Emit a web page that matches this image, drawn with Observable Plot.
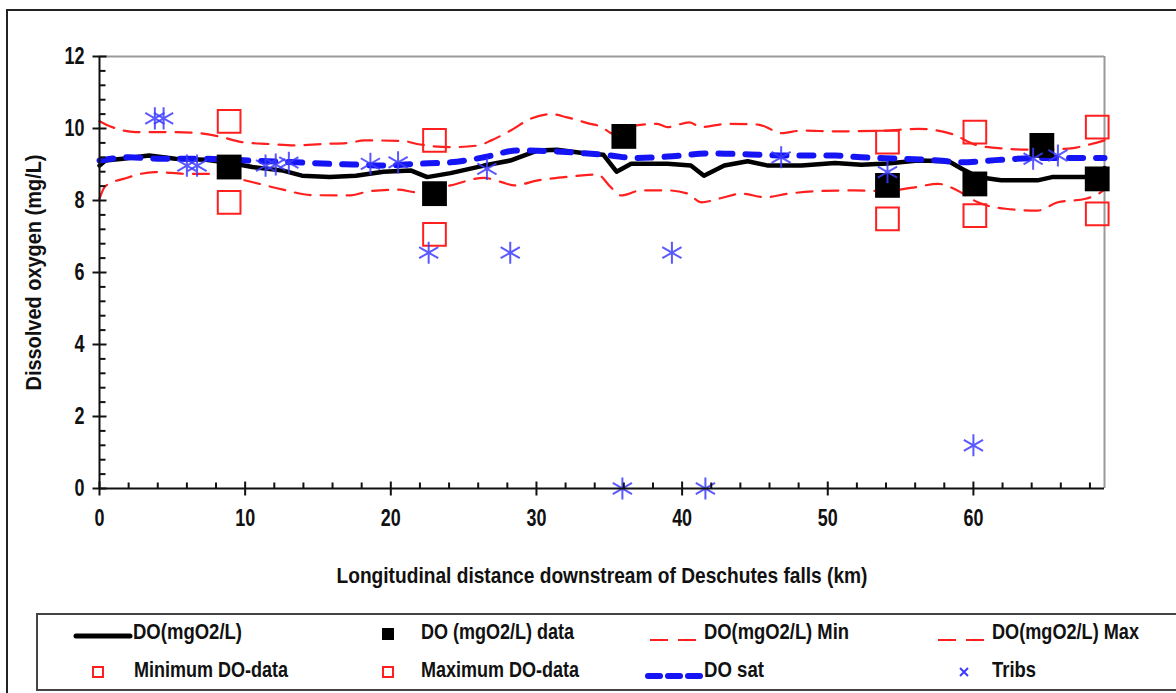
<!DOCTYPE html>
<html><head><meta charset="utf-8">
<script src="https://cdn.jsdelivr.net/npm/d3@7"></script>
<script src="https://cdn.jsdelivr.net/npm/@observablehq/plot@0.6"></script>
<style>
body{margin:0;background:#fff;}
#wrap{position:relative;width:1176px;height:693px;overflow:hidden;font-family:"Liberation Sans",Arial,sans-serif;font-weight:bold;color:#111;}
#outer{position:absolute;left:6px;top:9px;width:1200px;height:720px;border:2px solid #222;box-sizing:border-box;}
#chart{position:absolute;left:0;top:0;}
#legend{position:absolute;left:36px;top:613px;width:1200px;height:78px;border:2px solid #444;box-sizing:border-box;background:#fff}
.li{position:absolute;font-size:22px;line-height:24px;white-space:nowrap;transform-origin:0 50%;}
.ls{position:absolute;}
</style></head><body>
<div id="wrap"><div id="outer"></div><div id="chart"></div><div id="legend"></div></div>
<script>
// ---- data ----
const doX = [0,0.4,1.6,3.4,5.2,7.3,8.9,10.5,12.6,13.9,15.8,17.6,19.5,21.4,22.5,24.1,26.4,28.2,30.1,31.4,33.3,34.6,35.5,36.5,39.0,40.6,41.5,42.9,44.5,45.9,48.2,50.5,52.3,54.1,56.2,58.3,59.2,60.3,61.9,64.4,65.4,67.7,68.6,69.0];
const doY = [8.97,9.11,9.16,9.25,9.16,9.13,9.05,8.93,8.83,8.69,8.65,8.69,8.80,8.83,8.65,8.76,8.97,9.11,9.39,9.41,9.31,9.27,8.80,9.02,9.02,8.97,8.69,8.97,9.09,8.97,8.97,9.04,8.99,9.03,9.11,9.09,8.88,8.65,8.56,8.56,8.65,8.65,8.75,8.90];

const maxX = [0,0.5,2.5,4.3,6.6,8.4,9.8,11.6,13.5,15.3,17.1,18.2,20.9,21.8,24.1,26.0,26.9,28.2,29.6,31.0,32.1,33.7,34.4,35.3,36.5,38.3,39.0,40.5,41.3,43.1,45.2,46.3,46.8,48.2,50.5,53.9,56.2,58.5,60.3,62.2,64.0,66.5,68.1,69.0];
const maxY = [10.20,10.10,9.90,9.90,9.88,9.76,9.62,9.57,9.53,9.57,9.60,9.67,9.65,9.57,9.48,9.53,9.67,9.94,10.27,10.40,10.31,10.13,10.06,9.85,10.06,10.13,10.04,10.17,10.04,10.13,10.11,9.94,9.87,9.94,9.92,9.94,9.99,9.85,9.53,9.44,9.41,9.44,9.57,9.67];

const minX = [0,0.4,1.8,3.8,6.1,7.3,9.2,10.6,12.6,14.6,17.1,18.6,20.5,21.8,24.1,26.4,27.6,28.5,30.1,31.9,34.2,35.1,35.8,37.2,39.0,40.4,41.3,42.7,44.1,45.7,47.3,49.3,51.8,53.9,55.7,57.6,58.9,60.3,62.2,64.4,65.8,67.7,68.6,69.0];
const minY = [8.05,8.40,8.62,8.79,8.74,8.74,8.63,8.50,8.30,8.15,8.14,8.26,8.30,8.23,8.42,8.63,8.51,8.42,8.56,8.65,8.72,8.37,8.14,8.28,8.28,8.19,7.95,8.07,8.19,8.09,8.19,8.26,8.28,8.26,8.35,8.46,8.28,7.95,7.77,7.72,7.95,8.05,8.19,8.30];

const satX = [0,2.0,4.3,7.0,10.3,13.5,15.8,17.4,19.5,21.8,24.1,26.4,28.7,31.0,33.3,35.1,36.7,39.0,42.0,44.7,47.3,50.5,52.3,55.1,57.6,59.2,61.9,64.4,66.7,69.0];
const satY = [9.11,9.20,9.16,9.16,9.11,9.06,9.02,9.00,8.97,9.02,9.06,9.20,9.39,9.37,9.31,9.25,9.18,9.22,9.31,9.28,9.25,9.25,9.20,9.16,9.11,9.06,9.13,9.18,9.18,9.18];

const dataX = [8.9,23.0,36.0,54.1,60.1,64.7,68.5];
const dataY = [8.93,8.19,9.78,8.42,8.46,9.53,8.60];

const mmX = [8.9,23.0,54.1,60.1,68.5];
const minDataY = [7.95,7.06,7.49,7.58,7.63];
const maxDataY = [10.20,9.67,9.62,9.90,10.04];

const tribX = [3.8,4.4,6.0,6.7,11.4,12.1,13.0,18.6,20.5,22.6,26.6,28.2,35.9,39.3,41.6,46.8,54.1,60.0,64.1,65.8];
const tribY = [10.28,10.28,8.97,8.97,8.97,9.00,9.05,9.02,9.06,6.55,8.88,6.55,0,6.55,0,9.20,8.79,1.2,9.16,9.25];

const xTicks = [0,10,20,30,40,50,60];
const xMinor = d3.range(2,69,2).filter(v => v % 10 !== 0);
const yTicks = [0,2,4,6,8,10,12];
const yMinor = d3.range(0.4,12,0.4).map(v => +v.toFixed(1)).filter(v => Math.abs(v/2 - Math.round(v/2)) > 1e-6);

const xTitle = "Longitudinal distance downstream of Deschutes falls (km)";
const yTitle = "Dissolved oxygen (mg/L)";
const legendLabels = ["DO(mgO2/L)","DO (mgO2/L) data","DO(mgO2/L) Min","DO(mgO2/L) Max","Minimum DO-data","Maximum DO-data","DO sat","Tribs"];

// ---- build ----
const zip = (xs, ys) => xs.map((x,i) => ({x, y: ys[i]}));
const FONT = '"Liberation Sans",Arial,sans-serif';
const RED = "#ff1f1f", BLUE = "#1414f5", STAR = "#3c3cff";

const tickCross = {draw(c){c.moveTo(0,-7);c.lineTo(0,7);}};
const tickUp = {draw(c){c.moveTo(0,0);c.lineTo(0,-6);}};
const tickCrossH = {draw(c){c.moveTo(-7,0);c.lineTo(7,0);}};
const tickRight = {draw(c){c.moveTo(0,0);c.lineTo(6,0);}};

const chart = Plot.plot({
  width: 1176, height: 600,
  marginLeft: 99, marginRight: 72, marginTop: 56, marginBottom: 112,
  x: {domain: [0, 69], axis: null},
  y: {domain: [0, 12], axis: null},
  style: {background: "transparent", overflow: "visible"},
  marks: [
    Plot.ruleY([12], {stroke: "#9a9a9a", strokeWidth: 2}),
    Plot.ruleX([69], {stroke: "#9a9a9a", strokeWidth: 2}),
    Plot.line(zip(minX, minY), {x: "x", y: "y", stroke: RED, strokeWidth: 2.2, strokeDasharray: "16,10", curve: "monotone-x"}),
    Plot.line(zip(maxX, maxY), {x: "x", y: "y", stroke: RED, strokeWidth: 2.2, strokeDasharray: "16,10", curve: "monotone-x"}),
    Plot.line(zip(doX, doY), {x: "x", y: "y", stroke: "#000", strokeWidth: 4.5, strokeLinejoin: "round"}),
    Plot.line(zip(satX, satY), {x: "x", y: "y", stroke: BLUE, strokeWidth: 6, strokeDasharray: "14,13", strokeLinecap: "round", curve: "monotone-x"}),
    Plot.dot(zip(dataX, dataY), {x: "x", y: "y", symbol: "square", r: 14, fill: "#000", stroke: "none"}),
    Plot.dot(zip(mmX, minDataY), {x: "x", y: "y", symbol: "square", r: 12.8, fill: "none", stroke: RED, strokeWidth: 2}),
    Plot.dot(zip(mmX, maxDataY), {x: "x", y: "y", symbol: "square", r: 12.8, fill: "none", stroke: RED, strokeWidth: 2}),
    Plot.dot(zip(tribX, tribY), {x: "x", y: "y", symbol: "asterisk", r: 10.5, stroke: STAR, strokeWidth: 2, strokeOpacity: 0.85}),
    // axes
    Plot.ruleX([0], {stroke: "#111", strokeWidth: 2}),
    Plot.ruleY([0], {stroke: "#111", strokeWidth: 2}),
    Plot.dot(xTicks, {x: d => d, y: 0, symbol: tickCross, fill: "none", stroke: "#111", strokeWidth: 2}),
    Plot.dot(xMinor, {x: d => d, y: 0, symbol: tickUp, fill: "none", stroke: "#111", strokeWidth: 2}),
    Plot.dot(yTicks, {x: 0, y: d => d, symbol: tickCrossH, fill: "none", stroke: "#111", strokeWidth: 2}),
    Plot.dot(yMinor, {x: 0, y: d => d, symbol: tickRight, fill: "none", stroke: "#111", strokeWidth: 2}),
    Plot.text(xTicks, {x: d => d, y: 0, text: d => String(d), dy: 30, fontSize: 23, fontWeight: "bold", fontFamily: FONT, fill: "#111", className: "tl"}),
    Plot.text(yTicks, {x: 0, y: d => d, text: d => String(d), dx: -15, textAnchor: "end", fontSize: 23, fontWeight: "bold", fontFamily: FONT, fill: "#111", className: "tl"}),
    Plot.text([xTitle], {frameAnchor: "bottom", dy: 87, lineAnchor: "middle", textAnchor: "middle", fontSize: 22, fontWeight: "bold", fontFamily: FONT, fill: "#111", className: "xt"}),
    Plot.text([yTitle], {frameAnchor: "left", dx: -66, rotate: -90, textAnchor: "middle", lineAnchor: "middle", fontSize: 22, fontWeight: "bold", fontFamily: FONT, fill: "#111", className: "yt"})
  ]
});
document.getElementById("chart").appendChild(chart);

// condense text like the narrow source font
function squeeze(sel, fn) {
  chart.querySelectorAll(sel + " text").forEach(t => {
    const w = t.getComputedTextLength();
    t.setAttribute("textLength", fn(w));
    t.setAttribute("lengthAdjust", "spacingAndGlyphs");
  });
}
squeeze(".tl", w => w * 0.78);
squeeze(".xt", () => 531);
squeeze(".yt", () => 236);

// ---- legend ----
const wrap = document.getElementById("wrap");
const ns = "http://www.w3.org/2000/svg";
function sample(x, y, w, h, inner) {
  const d = document.createElement("div");
  d.className = "ls";
  d.style.left = x + "px"; d.style.top = y + "px";
  d.innerHTML = `<svg width="${w}" height="${h}" xmlns="${ns}">${inner}</svg>`;
  wrap.appendChild(d);
}
function label(x, cy, t, target) {
  const d = document.createElement("div");
  d.className = "li"; d.textContent = t;
  d.style.left = x + "px"; d.style.top = (cy - 12) + "px";
  wrap.appendChild(d);
  const w = d.getBoundingClientRect().width;
  d.style.transform = `scaleX(${target / w})`;
}
const r1 = 632, r2 = 670;
sample(72, r1 - 5, 62, 10, `<line x1="4" y1="5" x2="58" y2="5" stroke="#000" stroke-width="5" stroke-linecap="round"/>`);
label(133, r1, legendLabels[0], 109);
sample(382, r1 - 6, 12, 12, `<rect x="0" y="0" width="12" height="12" fill="#000"/>`);
label(421, r1, legendLabels[1], 153);
sample(648, r1 - 3, 56, 6, `<line x1="2" y1="3" x2="56" y2="3" stroke="${RED}" stroke-width="2" stroke-dasharray="18,10"/>`);
label(704, r1, legendLabels[2], 145);
sample(936, r1 - 3, 56, 6, `<line x1="2" y1="3" x2="56" y2="3" stroke="${RED}" stroke-width="2" stroke-dasharray="18,10"/>`);
label(992, r1, legendLabels[3], 147);
sample(92, r2 - 6, 12, 12, `<rect x="1" y="1" width="10" height="10" fill="none" stroke="${RED}" stroke-width="2"/>`);
label(134, r2, legendLabels[4], 154);
sample(382, r2 - 6, 12, 12, `<rect x="1" y="1" width="10" height="10" fill="none" stroke="${RED}" stroke-width="2"/>`);
label(421, r2, legendLabels[5], 158);
sample(644, r2 - 4, 60, 8, `<line x1="4" y1="4" x2="58" y2="4" stroke="${BLUE}" stroke-width="6" stroke-dasharray="12,8" stroke-linecap="round"/>`);
label(704, r2, legendLabels[6], 60);
sample(958, r2 - 6, 12, 12, `<path d="M2,2L10,10M10,2L2,10" stroke="${STAR}" stroke-width="2"/>`);
label(992, r2, legendLabels[7], 44);
</script>
</body></html>
